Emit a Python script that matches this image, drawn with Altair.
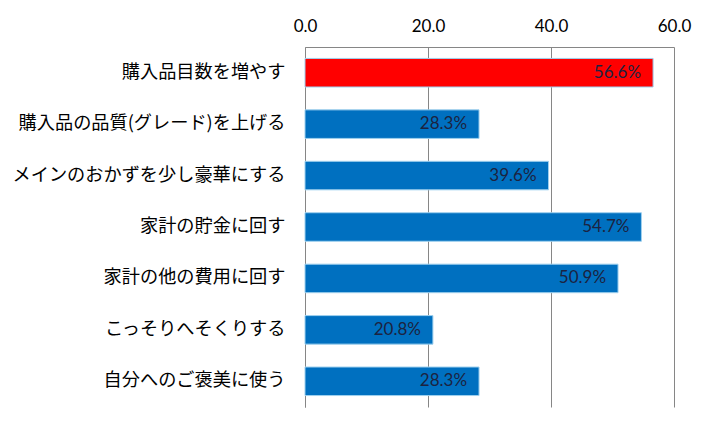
import altair as alt
import pandas as pd

categories = ["購入品目数を増やす", "購入品の品質(グレード)を上げる", "メインのおかずを少し豪華にする",
              "家計の貯金に回す", "家計の他の費用に回す", "こっそりへそくりする", "自分へのご褒美に使う"]
values = [56.6, 28.3, 39.6, 54.7, 50.9, 20.8, 28.3]
colors = ["#FF0000", "#0070C0", "#0070C0", "#0070C0", "#0070C0", "#0070C0", "#0070C0"]
tick_values = [0, 20, 40, 60]

df = pd.DataFrame({"cat": categories, "val": values, "color": colors,
                   "label": [f"{v:.1f}%" for v in values]})

x = alt.X("val:Q", scale=alt.Scale(domain=[0, 60], nice=False),
          axis=alt.Axis(orient="top", values=tick_values, format=".1f", title=None,
                        labelFont="Lato", labelFontSize=17, labelColor="#000000",
                        labelPadding=12, ticks=False, domain=True, domainColor="#868686",
                        grid=True, gridColor="#868686", gridWidth=1, labelFlush=False))
y = alt.Y("cat:N", sort=categories,
          scale=alt.Scale(paddingInner=0.445, paddingOuter=0.2225),
          axis=alt.Axis(title=None, labelFont="Noto Sans CJK JP", labelFontSize=18.2,
                        labelColor="#000000", labelPadding=20, ticks=False,
                        domain=True, domainColor="#868686", labelLimit=400))

bars = alt.Chart(df).mark_bar(stroke="#9fd0ee", strokeWidth=1).encode(
    x=x, y=y, color=alt.Color("color:N", scale=None))
text = alt.Chart(df).mark_text(align="right", dx=-12, font="Lato", fontSize=17,
                               color="#1c2340", baseline="middle").encode(
    x="val:Q", y=alt.Y("cat:N", sort=categories), text="label:N")

chart = (bars + text).properties(
    width=369, height=360,
    autosize=alt.AutoSizeParams(type="none"),
    padding={"left": 297, "top": 39, "right": 30, "bottom": 10},
).configure_view(stroke=None)

chart.save("out.html", embed_options={"renderer": "svg", "actions": False})
